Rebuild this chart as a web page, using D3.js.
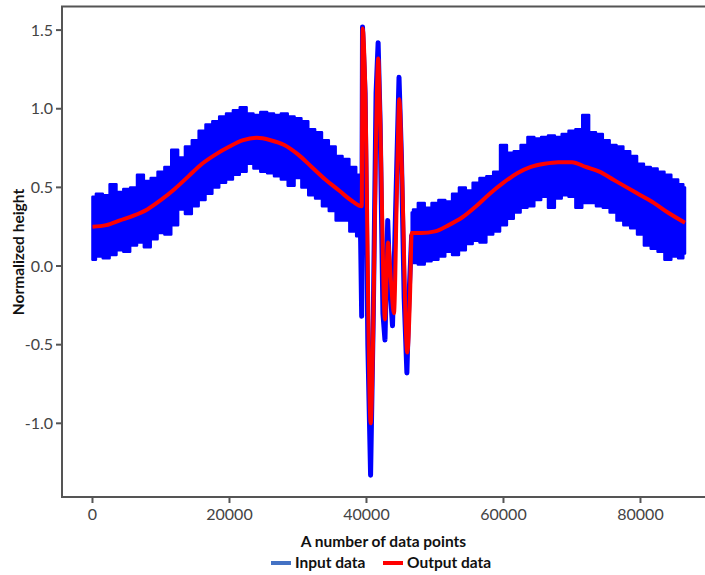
<!doctype html>
<html lang="en">
<head>
  <meta charset="utf-8">
  <title>Normalized height</title>
  <style>
    body { margin: 0; background: #fff; }
    .tick-label { font-family: Lato, "Open Sans", sans-serif; font-size: 16px; fill: #444; }
    .axis-title { font-family: Lato, "Open Sans", sans-serif; font-size: 15.5px; font-weight: bold; fill: #111; }
    .frame { stroke: #555; stroke-width: 2; fill: none; }
  </style>
</head>
<body>
  <div id="chart"></div>

  <script src="https://d3js.org/d3.v7.min.js"></script>
  <script>
    // input data: upper / lower envelope of the noisy blue signal, left part
    const bandLeftX = [0, 1000, 2000, 3000, 4000, 5000, 6000, 7000, 8000, 9000, 10000, 11000, 12000, 13000, 14000, 15000, 16000, 17000, 18000, 19000,
      20000, 21000, 22000, 23000, 24000, 25000, 26000, 27000, 28000, 29000, 30000, 31000, 32000, 33000, 34000, 35000, 36000, 37000, 38000, 39000];
    const bandLeftHi = [0.44, 0.46, 0.45, 0.52, 0.47, 0.49, 0.50, 0.58, 0.54, 0.56, 0.60, 0.63, 0.74, 0.69, 0.76, 0.80, 0.86, 0.90, 0.92, 0.95,
      0.97, 0.99, 1.01, 0.97, 0.96, 0.98, 0.97, 0.96, 0.97, 0.95, 0.94, 0.92, 0.87, 0.85, 0.80, 0.76, 0.70, 0.68, 0.63, 0.58];
    const bandLeftLo = [0.04, 0.06, 0.05, 0.07, 0.10, 0.09, 0.13, 0.15, 0.12, 0.17, 0.21, 0.20, 0.26, 0.36, 0.33, 0.38, 0.42, 0.46, 0.50, 0.53,
      0.55, 0.58, 0.60, 0.65, 0.62, 0.60, 0.59, 0.57, 0.55, 0.51, 0.56, 0.50, 0.45, 0.43, 0.38, 0.35, 0.29, 0.29, 0.22, 0.19];

    // input data, right part
    const bandRightX = [46600, 47000, 48000, 49000, 50000, 51000, 52000, 53000, 54000, 55000, 56000, 57000, 58000, 59000, 60000, 61000, 62000, 63000, 64000, 65000, 66000,
      67000, 68000, 69000, 70000, 71000, 72000, 73000, 74000, 75000, 76000, 77000, 78000, 79000, 80000, 81000, 82000, 83000, 84000, 85000, 86000, 86500];
    const bandRightHi = [0.34, 0.36, 0.40, 0.37, 0.40, 0.42, 0.41, 0.46, 0.50, 0.48, 0.53, 0.56, 0.57, 0.60, 0.77, 0.72, 0.73, 0.77, 0.82, 0.81, 0.82,
      0.83, 0.82, 0.84, 0.86, 0.87, 0.96, 0.85, 0.84, 0.80, 0.77, 0.76, 0.73, 0.70, 0.65, 0.63, 0.62, 0.60, 0.58, 0.55, 0.52, 0.50];
    const bandRightLo = [0.04, 0.02, 0.01, 0.03, 0.04, 0.06, 0.09, 0.07, 0.10, 0.14, 0.16, 0.15, 0.20, 0.22, 0.26, 0.30, 0.34, 0.37, 0.38, 0.42, 0.44,
      0.37, 0.43, 0.45, 0.44, 0.37, 0.40, 0.40, 0.38, 0.37, 0.34, 0.29, 0.26, 0.24, 0.20, 0.13, 0.11, 0.09, 0.04, 0.06, 0.05, 0.08];

    // input data, burst in the middle
    const inMidX = [39000, 39150, 39300, 39420, 39800, 40200, 40600, 41000, 41400, 41700, 42000, 42400, 42700, 43100, 43400, 43800, 44100, 44400, 44750, 45100, 45500, 45900, 46200, 46600];
    const inMidY = [0.45, 0.15, -0.32, 1.52, 1.10, -0.50, -1.33, -0.30, 1.10, 1.42, 0.90, -0.30, -0.47, 0.29, -0.10, -0.38, 0.10, 0.60, 1.20, 0.70, -0.20, -0.68, -0.20, 0.20];

    // output data (red)
    const outX = [0, 2000, 4000, 6000, 8000, 10000, 12000, 14000, 16000, 18000, 20000, 22000, 24000, 26000, 28000, 30000, 32000, 34000, 36000, 38000, 39300,
      39450, 39780, 40610, 40950, 41390, 41720, 41970, 42700, 43140, 43580, 44010, 44450, 44790, 45180, 45960, 46350,
      46600, 48000, 50000, 52000, 54000, 56000, 58000, 60000, 62000, 64000, 66000, 68000, 70000, 72000, 74000, 76000, 78000, 80000, 82000, 84000, 86500];
    const outY = [0.25, 0.26, 0.29, 0.32, 0.36, 0.42, 0.49, 0.57, 0.65, 0.71, 0.76, 0.80, 0.815, 0.80, 0.77, 0.71, 0.63, 0.55, 0.48, 0.41, 0.38,
      1.51, 1.20, -1.00, -0.50, 0.80, 1.32, 1.00, -0.34, 0.15, -0.10, -0.30, 0.50, 1.06, 0.60, -0.55, -0.20,
      0.21, 0.21, 0.22, 0.26, 0.31, 0.38, 0.46, 0.53, 0.59, 0.63, 0.65, 0.66, 0.66, 0.63, 0.60, 0.55, 0.50, 0.45, 0.40, 0.34, 0.275];

    const xTicks = [0, 20000, 40000, 60000, 80000];
    const yTicks = [-1.0, -0.5, 0.0, 0.5, 1.0, 1.5];

    const width = 705;
    const height = 575;
    const plotLeft = 62, plotTop = 6.5, plotBottom = 497, plotRight = 705;

    const svg = d3.select('#chart').append('svg')
      .attr('width', width)
      .attr('height', height);

    const x = d3.scaleLinear().domain([-4450, 89420]).range([plotLeft, plotRight]);
    const y = d3.scaleLinear().domain([-1.4685, 1.65]).range([plotBottom, plotTop]);

    const blue = '#0000ff';
    const red = '#ff0000';

    // noisy input band, drawn as a stepped envelope
    const band = d3.area()
      .x(d => x(d[0]))
      .y0(d => y(d[2]))
      .y1(d => y(d[1]))
      .curve(d3.curveStep);

    const leftBand = bandLeftX.map((v, i) => [v, bandLeftHi[i], bandLeftLo[i]]);
    const rightBand = bandRightX.map((v, i) => [v, bandRightHi[i], bandRightLo[i]]);

    svg.append('g')
      .selectAll('path')
      .data([leftBand, rightBand])
      .join('path')
      .attr('d', band)
      .attr('fill', blue)
      .attr('stroke', blue)
      .attr('stroke-width', 2.5)
      .attr('stroke-linejoin', 'round');

    const line = d3.line()
      .x(d => x(d[0]))
      .y(d => y(d[1]));

    svg.append('path')
      .datum(inMidX.map((v, i) => [v, inMidY[i]]))
      .attr('d', line)
      .attr('fill', 'none')
      .attr('stroke', blue)
      .attr('stroke-width', 5)
      .attr('stroke-linejoin', 'round');

    svg.append('path')
      .datum(outX.map((v, i) => [v, outY[i]]))
      .attr('d', line.curve(d3.curveMonotoneX))
      .attr('fill', 'none')
      .attr('stroke', red)
      .attr('stroke-width', 4)
      .attr('stroke-linejoin', 'round');

    // frame (no right edge visible)
    svg.append('path')
      .attr('class', 'frame')
      .attr('d', `M${plotRight},${plotTop}H${plotLeft}V${plotBottom}H${plotRight}`);

    // x ticks
    const xg = svg.append('g');
    xg.selectAll('line')
      .data(xTicks)
      .join('line')
      .attr('class', 'frame')
      .attr('x1', d => x(d)).attr('x2', d => x(d))
      .attr('y1', plotBottom).attr('y2', plotBottom + 6);
    xg.selectAll('text')
      .data(xTicks)
      .join('text')
      .attr('class', 'tick-label')
      .attr('x', d => x(d))
      .attr('y', plotBottom + 23)
      .attr('text-anchor', 'middle')
      .text(d => String(d));

    // y ticks
    const yg = svg.append('g');
    yg.selectAll('line')
      .data(yTicks)
      .join('line')
      .attr('class', 'frame')
      .attr('x1', plotLeft - 6).attr('x2', plotLeft)
      .attr('y1', d => y(d)).attr('y2', d => y(d));
    yg.selectAll('text')
      .data(yTicks)
      .join('text')
      .attr('class', 'tick-label')
      .attr('x', plotLeft - 9)
      .attr('y', d => y(d))
      .attr('dy', '0.35em')
      .attr('text-anchor', 'end')
      .text(d => d.toFixed(1));

    // axis titles
    const midX = (plotLeft + plotRight) / 2;
    svg.append('text')
      .attr('class', 'axis-title')
      .attr('x', midX)
      .attr('y', 547)
      .attr('text-anchor', 'middle')
      .text('A number of data points');

    svg.append('text')
      .attr('class', 'axis-title')
      .attr('transform', `translate(24,252) rotate(-90)`)
      .attr('text-anchor', 'middle')
      .text('Normalized height');

    // legend
    const legendItems = [
      { name: 'Input data', color: '#4472c4' },
      { name: 'Output data', color: red }
    ];
    const legend = svg.append('g').attr('transform', 'translate(271,563)');
    const item = legend.selectAll('g')
      .data(legendItems)
      .join('g')
      .attr('transform', (d, i) => `translate(${i * 112},0)`);
    item.append('rect')
      .attr('x', 0).attr('y', -2)
      .attr('width', 20).attr('height', 4)
      .attr('fill', d => d.color);
    item.append('text')
      .attr('class', 'axis-title')
      .attr('x', 24)
      .attr('y', 0)
      .attr('dy', '0.35em')
      .text(d => d.name);
  </script>
</body>
</html>
